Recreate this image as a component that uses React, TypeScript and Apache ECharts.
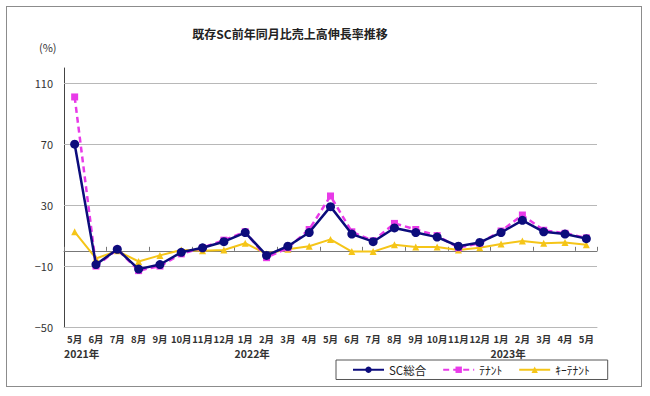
import React, { useEffect, useRef } from "react";
import * as echarts from "echarts";

const months = [
  "5月", "6月", "7月", "8月", "9月", "10月", "11月", "12月",
  "1月", "2月", "3月", "4月", "5月", "6月", "7月", "8月", "9月", "10月", "11月", "12月",
  "1月", "2月", "3月", "4月", "5月",
];
const yearMarks: Record<number, string> = { 0: "2021年", 8: "2022年", 20: "2023年" };

const seriesNames = ["SC総合", "ﾃﾅﾝﾄ", "ｷｰﾃﾅﾝﾄ"];
const scTotal = [70, -9, 1, -12, -9, -1, 2, 6, 12, -3, 3, 12, 29, 11, 6, 15, 12, 9, 3, 5.5, 12, 20, 12.5, 11, 8];
const tenant = [101, -10, 1, -13, -10, -2, 2, 7, 12.5, -4.5, 2, 14, 36, 12.5, 6.5, 18, 14, 10, 2, 5, 13, 23.5, 13.5, 11.5, 8.5];
const keyTenant = [12.5, -5, 0, -7, -3, 0.5, 0, 0.5, 5, -2, 1, 3, 7.5, -0.5, -0.5, 4, 2.5, 2.5, 0.5, 2, 4.5, 6.5, 5, 5.5, 4];

const yMin = -50;
const yMax = 120;
const yInterval = 40;
const gridValues = [110, 70, 30, -10];

export default function App() {
  const ref = useRef<HTMLDivElement>(null);
  useEffect(() => {
    document.body.style.margin = "0";
    if (!ref.current) return;
    const chart = echarts.init(ref.current, null, { renderer: "svg" });
    const font = "'Noto Sans CJK JP', 'Noto Sans', sans-serif";
    chart.setOption({
      animation: false,
      textStyle: { fontFamily: font },
      title: {
        text: "既存SC前年同月比売上高伸長率推移",
        left: 285,
        top: 22,
        textAlign: "center",
        textStyle: { fontSize: 12, fontWeight: "bold", color: "#222", fontFamily: font },
      },
      graphic: [
        {
          type: "text",
          left: 39,
          top: 41,
          style: { text: "(%)", fontSize: 11, fill: "#333", fontFamily: font },
        },
      ],
      legend: {
        left: 336,
        top: 360,
        padding: [4, 18, 4, 16],
        itemGap: 16,
        itemWidth: 31,
        itemHeight: 8,
        borderColor: "#555",
        borderWidth: 1,
        textStyle: { fontSize: 11.5, color: "#222", fontFamily: font },
        data: seriesNames,
      },
      grid: { left: 64, right: 53, top: 68, bottom: 69 },
      xAxis: [
        {
          type: "category",
          data: months,
          boundaryGap: true,
          position: "bottom",
          axisLine: { onZero: false, lineStyle: { color: "#b8b8b8", width: 1 } },
          axisTick: { show: false },
          axisLabel: {
            interval: 0,
            margin: 5,
            color: "#333",
            formatter: (value: string, index: number) =>
              yearMarks[index] ? `{m|${value}}\n{y|${yearMarks[index]}}` : `{m|${value}}`,
            rich: {
              m: { fontSize: 9.5, fontWeight: "bold", color: "#333", align: "center", lineHeight: 14, fontFamily: font },
              y: { fontSize: 10.5, fontWeight: "bold", color: "#333", align: "left", lineHeight: 14, padding: [0, 0, 0, 14], fontFamily: font },
            },
          },
          splitLine: { show: false },
        },
        {
          type: "category",
          data: months,
          boundaryGap: true,
          position: "top",
          axisLine: { onZero: true, lineStyle: { color: "#777", width: 1 } },
          axisTick: { show: true, inside: false, length: 4, lineStyle: { color: "#777" } },
          axisLabel: { show: false },
          splitLine: { show: false },
        },
      ],
      yAxis: {
        type: "value",
        min: yMin,
        max: yMax,
        interval: yInterval,
        axisLine: { show: true, lineStyle: { color: "#444", width: 1 } },
        axisTick: { show: false },
        splitLine: { show: false },
        axisLabel: {
          showMaxLabel: false,
          margin: 11,
          fontSize: 11,
          color: "#333",
          formatter: (v: number) => String(v).replace("-", "\u2212"),
        },
      },
      series: [
        {
          name: seriesNames[0],
          type: "line",
          data: scTotal,
          xAxisIndex: 0,
          symbol: "circle",
          symbolSize: 9,
          z: 4,
          itemStyle: { color: "#0c0c7c" },
          lineStyle: { color: "#0c0c7c", width: 2.5 },
          markLine: {
            silent: true,
            symbol: "none",
            label: { show: false },
            lineStyle: { color: "#b8b8b8", width: 1, type: "solid" },
            data: gridValues.map((v) => ({ yAxis: v })),
            z: 1,
          },
        },
        {
          name: seriesNames[1],
          type: "line",
          data: tenant,
          xAxisIndex: 0,
          symbol: "rect",
          symbolSize: 7,
          z: 3,
          itemStyle: { color: "#e83ae8" },
          lineStyle: { color: "#e83ae8", width: 2.5, type: [6, 4] },
        },
        {
          name: seriesNames[2],
          type: "line",
          data: keyTenant,
          xAxisIndex: 0,
          symbol: "triangle",
          symbolSize: 7,
          z: 2,
          itemStyle: { color: "#f5c518" },
          lineStyle: { color: "#f5c518", width: 2 },
        },
      ],
    });
    return () => chart.dispose();
  }, []);
  return (
    <div style={{ position: "relative", width: 650, height: 396 }}>
      <div ref={ref} style={{ position: "absolute", left: 0, top: 0, width: 650, height: 396 }} />
      <div
        style={{
          position: "absolute",
          left: 6,
          top: 6,
          width: 636,
          height: 381,
          border: "1px solid #8c8c8c",
          pointerEvents: "none",
          boxSizing: "border-box",
        }}
      />
    </div>
  );
}
